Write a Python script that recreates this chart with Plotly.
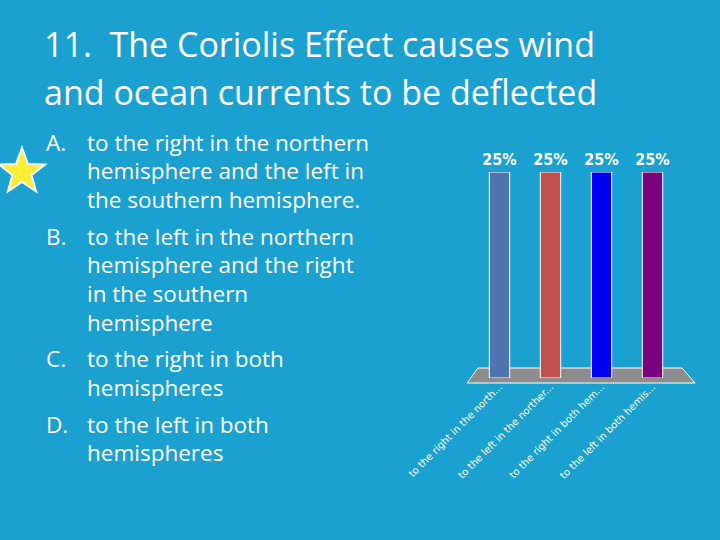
import plotly.graph_objects as go
import math

categories = ["to the right in the north...", "to the left in the norther...",
              "to the right in both hem...", "to the left in both hemis..."]
values = [25, 25, 25, 25]
colors = ["#4f74b0", "#c0504d", "#0000f0", "#7a007f"]
value_labels = ["<b>25%</b>", "<b>25%</b>", "<b>25%</b>", "<b>25%</b>"]

bg = "#1ba1cf"
fig = go.Figure(go.Bar(x=categories, y=values, marker=dict(color=colors, line=dict(color="white", width=1)),
                       width=0.4, text=value_labels, textposition="outside", cliponaxis=False,
                       textfont=dict(color="white", size=16, family="DejaVu Sans Condensed")))

W, H = 720, 540
fig.update_layout(width=W, height=H, margin=dict(l=0, r=0, t=0, b=0, autoexpand=False),
                  paper_bgcolor=bg, plot_bgcolor="rgba(0,0,0,0)", showlegend=False,
                  uniformtext=dict(minsize=16, mode="show"),
                  xaxis=dict(domain=[474/W, 678/W], range=[-0.5, 3.5], tickangle=-45, automargin=False,
                             tickfont=dict(color="white", size=10, family="DejaVu Sans"),
                             showgrid=False, zeroline=False, showline=False, ticklen=10, tickcolor="rgba(0,0,0,0)"),
                  yaxis=dict(domain=[1-378/H, 1-172/H], range=[0, 25], visible=False, automargin=False))

fig.add_shape(type="path", xref="paper", yref="paper", layer="below",
              path=f"M {478/W} {1-368/H} L {682/W} {1-368/H} L {695/W} {1-383/H} L {467/W} {1-383/H} Z",
              fillcolor="#8c8c8c", line=dict(color="white", width=1))

cx, cy, ro, ri = 22, 172, 24, 10
pts = []
for i in range(10):
    r = ro if i % 2 == 0 else ri
    a = -math.pi/2 + i*math.pi/5
    pts.append((cx + r*math.cos(a), cy + r*math.sin(a)))
path = "M " + " L ".join(f"{x/W} {1-y/H}" for x, y in pts) + " Z"
fig.add_shape(type="path", xref="paper", yref="paper", path=path,
              fillcolor="#ffee33", line=dict(color="white", width=2))

font = "Open Sans"
for i, line in enumerate(["11.  The Coriolis Effect causes wind", "and ocean currents to be deflected"]):
    fig.add_annotation(x=42/W, y=1-(44+48*i)/H, xref="paper", yref="paper", text=line, showarrow=False,
                       xanchor="left", yanchor="middle", font=dict(color="white", size=34, family=font))

items = [("A.", ["to the right in the northern", "hemisphere and the left in", "the southern hemisphere."]),
         ("B.", ["to the left in the northern", "hemisphere and the right", "in the southern", "hemisphere"]),
         ("C.", ["to the right in both", "hemispheres"]),
         ("D.", ["to the left in both", "hemispheres"])]
y = 142
for lab, lines in items:
    fig.add_annotation(x=44/W, y=1-y/H, xref="paper", yref="paper", text=lab, showarrow=False,
                       xanchor="left", yanchor="middle", font=dict(color="white", size=22.5, family=font))
    for ln in lines:
        fig.add_annotation(x=85/W, y=1-y/H, xref="paper", yref="paper", text=ln, showarrow=False,
                           xanchor="left", yanchor="middle", font=dict(color="white", size=22.5, family=font))
        y += 28.7
    y += 8

fig.write_html("out.html", config={"responsive": False, "displayModeBar": False},
               post_script="document.body.style.margin='0';document.body.style.background='%s';" % bg)
